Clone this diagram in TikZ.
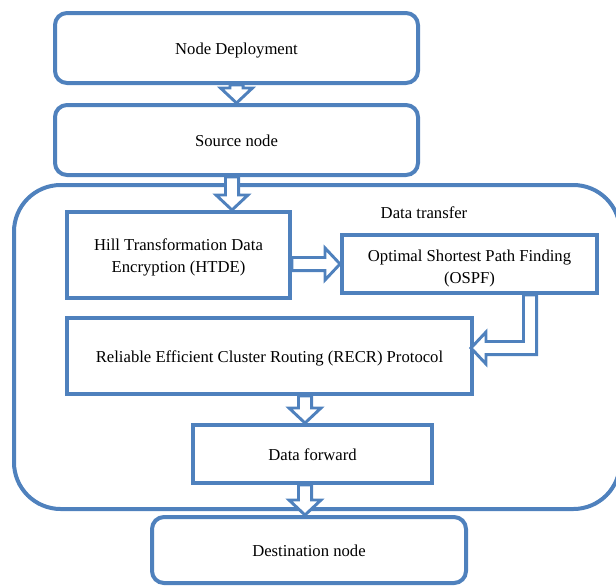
\documentclass[tikz,border=0pt]{standalone}
\usepackage{fontspec}
\setmainfont{Liberation Serif}
\usetikzlibrary{calc}
\definecolor{flowblue}{RGB}{79,129,189}

\begin{document}
\begin{tikzpicture}[x=0.75pt,y=-0.75pt,line join=miter,font=\fontsize{12.5}{16.5}\selectfont,
    boxsize/.style 2 args={minimum width=#1*0.75pt,minimum height=#2*0.75pt},
    oneline/.style={text height=2.3ex,text depth=0.1ex},
    stepbox/.style={draw=flowblue,line width=3pt,fill=white,inner sep=0pt,align=center},
    roundbox/.style={stepbox,rounded corners=9pt},
    groupbox/.style={draw=flowblue,line width=3pt,rounded corners=35pt,inner sep=0pt},
    fatarrow/.style={draw=flowblue,line width=2.2pt,fill=white},
    downarrow/.style={fatarrow,to path={let \p1=(\tikztostart), \p2=(\tikztotarget) in
      (\x1-\aw,\y1) -- (\x1-\aw,\y2+\al) -- (\x1-\ah,\y2+\al) -- (\x1,\y2)
      -- (\x1+\ah,\y2+\al) -- (\x1+\aw,\y2+\al) -- (\x1+\aw,\y1) -- cycle}},
    rightarrow/.style={fatarrow,to path={let \p1=(\tikztostart), \p2=(\tikztotarget) in
      (\x1,\y1+\aw) -- (\x2-\al,\y1+\aw) -- (\x2-\al,\y1+\ah) -- (\x2,\y1)
      -- (\x2-\al,\y1-\ah) -- (\x2-\al,\y1-\aw) -- (\x1,\y1-\aw) -- cycle}}]
	\def\aw{4.9pt} \def\ah{12pt} \def\al{11.25pt}
	\useasboundingbox (0,0) rectangle (616,586);
	\node[groupbox,boxsize={606}{324}] (dt) at (317,347) {};
	\node[oneline] (dtl) at (424,212) {Data transfer};
	\node[roundbox,oneline,boxsize={363}{70}] (nd) at (236.5,48) {Node Deployment};
	\node[roundbox,oneline,boxsize={363}{70}] (src) at (236.5,140) {Source node};
	\node[stepbox,boxsize={223}{86}] (htde) at (178.5,255) {};
	\node[align=center] (htdet) at ($(htde)+(0,2)$) {Hill Transformation Data\\Encryption (HTDE)};
	\node[stepbox,boxsize={255}{58}] (ospf) at (469.5,264) {};
	\node[align=center] (ospft) at ($(ospf)+(0,4)$) {Optimal Shortest Path Finding\\(OSPF)};
	\node[stepbox,oneline,boxsize={405}{76}] (recr) at (269.5,356) {Reliable Efficient Cluster Routing (RECR) Protocol};
	\node[stepbox,oneline,boxsize={239}{58}] (df) at (312.5,454) {Data forward};
	\node[roundbox,oneline,boxsize={314}{66}] (dest) at (309,550) {Destination node};
	\draw[downarrow] (nd.south) to (src.north);
	\draw[downarrow] ($(src.south)+(-4.5,0)$) to (htde.north);
	\draw[rightarrow] (htde.east |- ospf.west) to (ospf.west);
	\draw[fatarrow] let \p1=($(ospf.south)+(60.5,0)$), \p2=($(recr.east)+(-3,-8)$) in
		(\x1-\aw,\y1) -- (\x1-\aw,\y2+\aw) -- (\x2+\al,\y2+\aw) -- (\x2+\al,\y2+\ah) -- (\x2,\y2)
		-- (\x2+\al,\y2-\ah) -- (\x2+\al,\y2-\aw) -- (\x1+\aw,\y2-\aw) -- (\x1+\aw,\y1) -- cycle;
	\draw[downarrow] ($(df.north |- recr.south)+(-7.5,0)$) to (df.north);
	\draw[downarrow] ($(df.south)+(-7.5,0)$) to (dest.north);
\end{tikzpicture}
\end{document}
